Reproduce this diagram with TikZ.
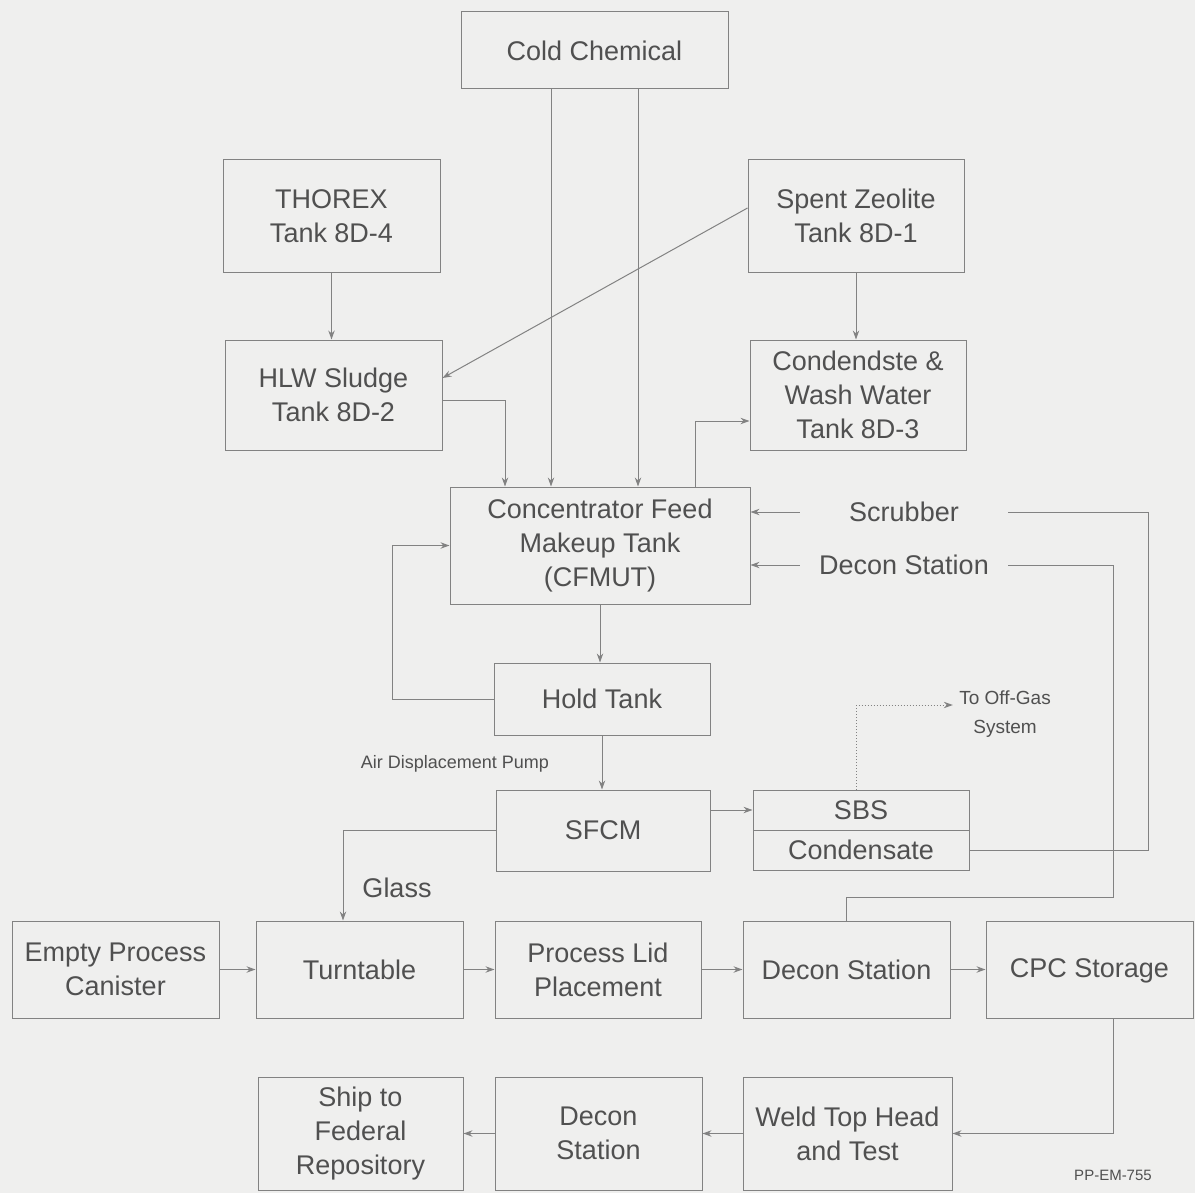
\documentclass[tikz,border=0pt]{standalone}
\usepackage{fontspec}
\setmainfont{Liberation Sans}
\usepackage{xcolor}
\usepackage{tikz}
\usetikzlibrary{arrows.meta}

\definecolor{paper}{RGB}{239,239,238}
\definecolor{ink}{RGB}{80,80,80}
\definecolor{linegray}{RGB}{130,130,130}

\begin{document}
\begin{tikzpicture}[x=0.5pt, y=-0.5pt,
        box/.style={draw=linegray, line width=0.5pt, align=center, inner sep=0pt, text=ink,
            font=\fontsize{13.5}{17}\selectfont},
        lbl/.style={align=center, inner sep=0pt, text=ink, font=\fontsize{13.5}{17}\selectfont},
        pipe/.style={draw=linegray, line width=0.5pt},
        flow/.style={pipe, -{Stealth[length=4.5pt, width=3.2pt]}}]
        \fill[paper] (0, 0) rectangle (1195, 1193);
        \useasboundingbox (0, 0) rectangle (1195, 1193);

        % tanks
        \node[box, minimum width=133.5pt, minimum height=38.5pt] (cold) at (594.5, 50.5) {Cold Chemical};
        \node[box, minimum width=108.5pt, minimum height=56pt] (thorex) at (331.5, 216) {THOREX\\Tank 8D-4};
        \node[box, minimum width=108pt, minimum height=56pt] (zeolite) at (856, 216) {Spent Zeolite\\Tank 8D-1};
        \node[box, minimum width=108.5pt, minimum height=55pt] (hlw) at (333.5, 395) {HLW Sludge\\Tank 8D-2};
        \node[box, minimum width=108pt, minimum height=55pt] (wash) at (858, 395) {Condendste \&\\Wash Water\\Tank 8D-3};
        \node[box, minimum width=150pt, minimum height=58.5pt] (cfmut) at (600, 545.5) {Concentrator Feed\\Makeup Tank\\(CFMUT)};
        \node[lbl, minimum width=104pt] (scrub) at (904, 512) {Scrubber};
        \node[lbl, minimum width=104pt] (dlbl) at (904, 565) {Decon Station};
        \node[box, minimum width=108pt, minimum height=36pt] (hold) at (602, 699) {Hold Tank};
        \node[box, minimum width=107pt, minimum height=40.5pt] (sfcm) at (603, 830.5) {SFCM};
        \node[box, minimum width=108pt, minimum height=20pt] (sbs) at (861, 810) {SBS};
        \node[box, minimum width=108pt, minimum height=20pt] (cond) at (861, 850) {Condensate};
        \node[lbl, font=\fontsize{9.5}{14.5}\selectfont] (offgas) at (1005, 714) {To Off-Gas\\System};
        \node[lbl, font=\fontsize{9}{11}\selectfont] (pump) at (455, 764) {Air Displacement Pump};
        \node[lbl] (glass) at (397, 888) {Glass};

        % canister line
        \node[box, minimum width=103.5pt, minimum height=48.5pt] (empty) at (115.5, 969.5) {Empty Process\\Canister};
        \node[box, minimum width=103.5pt, minimum height=48.5pt] (turn) at (359.5, 969.5) {Turntable};
        \node[box, minimum width=103pt, minimum height=48.5pt] (lid) at (598, 969.5) {Process Lid\\Placement};
        \node[box, minimum width=103.5pt, minimum height=48.5pt] (decon) at (846.5, 969.5) {Decon Station};
        \node[box, minimum width=103.5pt, minimum height=48.5pt, text depth=1pt] (cpc) at (1089.5, 969.5) {CPC Storage};
        \node[box, minimum width=102.5pt, minimum height=56.5pt] (ship) at (360.5, 1133.5) {Ship to\\Federal\\Repository};
        \node[box, minimum width=103.5pt, minimum height=56.5pt] (decontwo) at (598.5, 1133.5) {Decon\\Station};
        \node[box, minimum width=104.5pt, minimum height=56.5pt] (weld) at (847.5, 1133.5) {Weld Top Head\\and Test};
        \node[lbl, font=\fontsize{7.5}{9}\selectfont] (tag) at (1113, 1175) {PP-EM-755};

        \coordinate (hlwdrop) at (505, 0);
        \coordinate (chemA) at (551, 0);
        \coordinate (chemB) at (638, 0);
        \coordinate (washup) at (695, 0);
        \coordinate (loop) at (392, 0);
        \coordinate (scrubrise) at (1148, 0);
        \coordinate (deconrise) at (1113, 897);
        \coordinate (glassdrop) at (343, 0);
        \coordinate (cpcdrop) at (1113, 0);

        \draw[flow] (thorex.south) -- (thorex.south |- hlw.north);
        \draw[flow] ([yshift=4pt]zeolite.west) -- ([yshift=8.5pt]hlw.east);
        \draw[flow] (zeolite.south) -- (zeolite.south |- wash.north);
        \draw[flow] ([yshift=-2.5pt]hlw.east) -| (hlwdrop |- cfmut.north);
        \draw[flow] (chemA |- cold.south) -- (chemA |- cfmut.north);
        \draw[flow] (chemB |- cold.south) -- (chemB |- cfmut.north);
        \draw[flow] (washup |- cfmut.north) |- ([yshift=-13pt]wash.west);

        \draw[flow] (scrub.west) -- (cfmut.east |- scrub.west);
        \draw[flow] (dlbl.west) -- (cfmut.east |- dlbl.west);
        \draw[pipe] (cond.east) -| (scrubrise |- scrub.east) -- (scrub.east);
        \draw[pipe] (decon.north) |- (deconrise) |- (dlbl.east);

        \draw[flow] (cfmut.south) -- (cfmut.south |- hold.north);
        \draw[flow] (hold.west) -| (loop |- cfmut.west) -- (cfmut.west);
        \draw[flow] (hold.south) -- (hold.south |- sfcm.north);
        \draw[flow] (sfcm.east |- sbs.west) -- (sbs.west);
        \draw[flow, densely dotted] ([xshift=-2.5pt]sbs.north) |- ([yshift=4.5pt, xshift=-3pt]offgas.west);
        \draw[flow] (sfcm.west) -| (glassdrop |- turn.north);

        \draw[flow] (empty) -- (turn);
        \draw[flow] (turn) -- (lid);
        \draw[flow] (lid) -- (decon);
        \draw[flow] (decon) -- (cpc);
        \draw[flow] (cpcdrop |- cpc.south) |- (weld.east);
        \draw[flow] (weld) -- (decontwo);
        \draw[flow] (decontwo) -- (ship);
\end{tikzpicture}
\end{document}
